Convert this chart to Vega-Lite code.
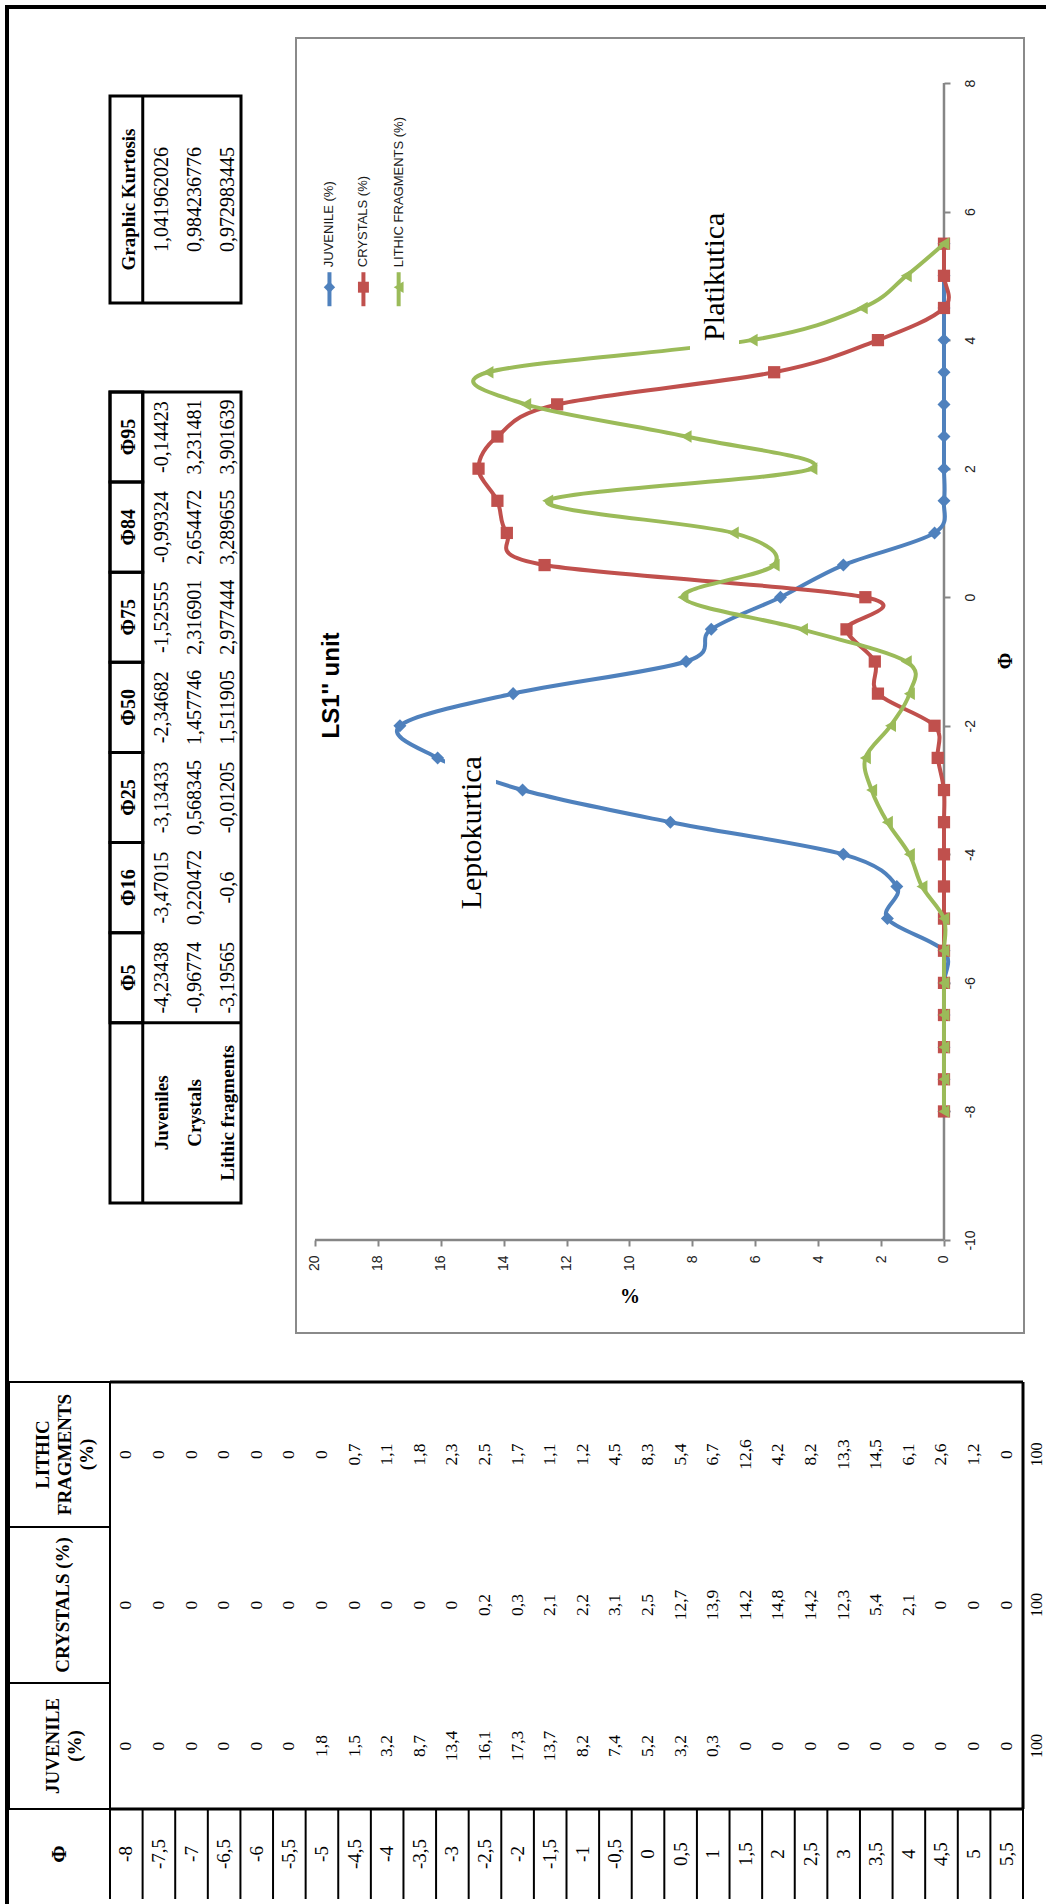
{
  "$schema": "https://vega.github.io/schema/vega-lite/v6.json",
  "background": "white",
  "padding": {"left": 5, "top": 5, "right": 0, "bottom": 0},
  "config": {
    "view": {"stroke": null},
    "locale": {"number": {"decimal": ",", "thousands": ".", "grouping": [3], "currency": ["", ""], "minus": "-"}},
    "text": {"font": "Liberation Serif", "color": "black"}
  },
  "datasets": {
    "dist": [
      {"phi": -8, "juv": 0, "cry": 0, "lit": 0},
      {"phi": -7.5, "juv": 0, "cry": 0, "lit": 0},
      {"phi": -7, "juv": 0, "cry": 0, "lit": 0},
      {"phi": -6.5, "juv": 0, "cry": 0, "lit": 0},
      {"phi": -6, "juv": 0, "cry": 0, "lit": 0},
      {"phi": -5.5, "juv": 0, "cry": 0, "lit": 0},
      {"phi": -5, "juv": 1.8, "cry": 0, "lit": 0},
      {"phi": -4.5, "juv": 1.5, "cry": 0, "lit": 0.7},
      {"phi": -4, "juv": 3.2, "cry": 0, "lit": 1.1},
      {"phi": -3.5, "juv": 8.7, "cry": 0, "lit": 1.8},
      {"phi": -3, "juv": 13.4, "cry": 0, "lit": 2.3},
      {"phi": -2.5, "juv": 16.1, "cry": 0.2, "lit": 2.5},
      {"phi": -2, "juv": 17.3, "cry": 0.3, "lit": 1.7},
      {"phi": -1.5, "juv": 13.7, "cry": 2.1, "lit": 1.1},
      {"phi": -1, "juv": 8.2, "cry": 2.2, "lit": 1.2},
      {"phi": -0.5, "juv": 7.4, "cry": 3.1, "lit": 4.5},
      {"phi": 0, "juv": 5.2, "cry": 2.5, "lit": 8.3},
      {"phi": 0.5, "juv": 3.2, "cry": 12.7, "lit": 5.4},
      {"phi": 1, "juv": 0.3, "cry": 13.9, "lit": 6.7},
      {"phi": 1.5, "juv": 0, "cry": 14.2, "lit": 12.6},
      {"phi": 2, "juv": 0, "cry": 14.8, "lit": 4.2},
      {"phi": 2.5, "juv": 0, "cry": 14.2, "lit": 8.2},
      {"phi": 3, "juv": 0, "cry": 12.3, "lit": 13.3},
      {"phi": 3.5, "juv": 0, "cry": 5.4, "lit": 14.5},
      {"phi": 4, "juv": 0, "cry": 2.1, "lit": 6.1},
      {"phi": 4.5, "juv": 0, "cry": 0, "lit": 2.6},
      {"phi": 5, "juv": 0, "cry": 0, "lit": 1.2},
      {"phi": 5.5, "juv": 0, "cry": 0, "lit": 0}
    ],
    "stats": [
      {"row": "Juveniles", "col": "Φ5", "val": -4.23438},
      {"row": "Juveniles", "col": "Φ16", "val": -3.47015},
      {"row": "Juveniles", "col": "Φ25", "val": -3.13433},
      {"row": "Juveniles", "col": "Φ50", "val": -2.34682},
      {"row": "Juveniles", "col": "Φ75", "val": -1.52555},
      {"row": "Juveniles", "col": "Φ84", "val": -0.99324},
      {"row": "Juveniles", "col": "Φ95", "val": -0.14423},
      {"row": "Crystals", "col": "Φ5", "val": -0.96774},
      {"row": "Crystals", "col": "Φ16", "val": 0.220472},
      {"row": "Crystals", "col": "Φ25", "val": 0.568345},
      {"row": "Crystals", "col": "Φ50", "val": 1.457746},
      {"row": "Crystals", "col": "Φ75", "val": 2.316901},
      {"row": "Crystals", "col": "Φ84", "val": 2.654472},
      {"row": "Crystals", "col": "Φ95", "val": 3.231481},
      {"row": "Lithic fragments", "col": "Φ5", "val": -3.19565},
      {"row": "Lithic fragments", "col": "Φ16", "val": -0.6},
      {"row": "Lithic fragments", "col": "Φ25", "val": -0.01205},
      {"row": "Lithic fragments", "col": "Φ50", "val": 1.511905},
      {"row": "Lithic fragments", "col": "Φ75", "val": 2.977444},
      {"row": "Lithic fragments", "col": "Φ84", "val": 3.289655},
      {"row": "Lithic fragments", "col": "Φ95", "val": 3.901639}
    ],
    "kurt": [
      {"row": "Juveniles", "k": 1.041962026},
      {"row": "Crystals", "k": 0.984236776},
      {"row": "Lithic fragments", "k": 0.972983445}
    ],
    "tcols": [
      {"col": "lit", "name": "LITHIC\nFRAGMENTS\n(%)"},
      {"col": "cry", "name": "CRYSTALS (%)"},
      {"col": "juv", "name": "JUVENILE\n(%)"},
      {"col": "phi", "name": "Φ"}
    ],
    "totals": [
      {"col": "juv", "t": 100},
      {"col": "cry", "t": 100},
      {"col": "lit", "t": 100}
    ]
  },
  "bounds": "full",
  "spacing": -2,
  "hconcat": [
    {"width": 4, "height": 1899, "data": {"values": []}, "mark": "point", "view": {"fill": "black", "stroke": null}},
    {
      "bounds": "full",
      "spacing": 0,
      "vconcat": [
        {"width": 1037, "height": 4, "data": {"values": []}, "mark": "point", "view": {"fill": "black", "stroke": null}},
        {"width": 10, "height": 28, "data": {"values": []}, "mark": "point"},
        {
          "bounds": "full",
          "spacing": 51,
          "hconcat": [
            {"width": 47, "height": 1, "data": {"values": []}, "mark": "point"},
            {
              "bounds": "flush",
              "spacing": 0,
              "vconcat": [
                {"width": 131, "height": 58, "data": {"values": []}, "mark": "point"},
                {
                  "width": 131, "height": 207,
                  "view": {"stroke": "black", "strokeWidth": 3},
                  "layer": [
                    {"data": {"values": [{}]}, "mark": {"type": "rule", "color": "black", "strokeWidth": 3},
                     "encoding": {"x": {"datum": "Juveniles", "bandPosition": 0, "scale": {"type": "band", "domain": ["hdr", "Juveniles", "Crystals", "Lithic fragments"], "paddingInner": 0, "paddingOuter": 0}, "axis": null}}},
                    {"data": {"values": [{"h": "Graphic Kurtosis"}]}, "mark": {"type": "text", "angle": -90, "fontWeight": "bold", "fontSize": 19, "dy": 3},
                     "encoding": {"x": {"datum": "hdr", "bandPosition": 0.5, "scale": {"type": "band", "domain": ["hdr", "Juveniles", "Crystals", "Lithic fragments"], "paddingInner": 0, "paddingOuter": 0}, "axis": null}, "text": {"field": "h"}}},
                    {"data": {"name": "kurt"}, "mark": {"type": "text", "angle": -90, "fontSize": 20, "dy": 3},
                     "encoding": {"x": {"field": "row", "type": "nominal", "scale": {"type": "band", "domain": ["hdr", "Juveniles", "Crystals", "Lithic fragments"], "paddingInner": 0, "paddingOuter": 0}, "axis": null}, "text": {"field": "k", "type": "quantitative", "format": ".10~r"}}}
                  ]
                },
                {"width": 131, "height": 89, "data": {"values": []}, "mark": "point"},
                {
                  "width": 131, "height": 811,
                  "view": {"stroke": "black", "strokeWidth": 3},
                  "layer": [
                    {"data": {"name": "stats"}, "transform": [{"filter": "datum.row === 'Juveniles'"}],
                     "mark": {"type": "rect", "filled": false, "color": "black", "strokeWidth": 3},
                     "encoding": {
                       "x": {"datum": "hdr", "scale": {"type": "band", "domain": ["hdr", "Juveniles", "Crystals", "Lithic fragments"], "paddingInner": 0, "paddingOuter": 0}, "axis": null},
                       "y": {"field": "col", "type": "nominal", "scale": {"type": "band", "domain": ["Φ95", "Φ84", "Φ75", "Φ50", "Φ25", "Φ16", "Φ5", "lab1", "lab2"], "paddingInner": 0, "paddingOuter": 0}, "axis": null}}},
                    {"data": {"values": [{}]}, "mark": {"type": "rule", "color": "black", "strokeWidth": 3},
                     "encoding": {"y": {"datum": "lab1", "bandPosition": 0, "scale": {"type": "band", "domain": ["Φ95", "Φ84", "Φ75", "Φ50", "Φ25", "Φ16", "Φ5", "lab1", "lab2"], "paddingInner": 0, "paddingOuter": 0}, "axis": null}}},
                    {"data": {"values": [{}]}, "mark": {"type": "rule", "color": "black", "strokeWidth": 3},
                     "encoding": {"x": {"datum": "Juveniles", "bandPosition": 0, "scale": {"type": "band", "domain": ["hdr", "Juveniles", "Crystals", "Lithic fragments"], "paddingInner": 0, "paddingOuter": 0}, "axis": null}}},
                    {"data": {"name": "stats"}, "transform": [{"filter": "datum.row === 'Juveniles'"}],
                     "mark": {"type": "text", "angle": -90, "fontWeight": "bold", "fontSize": 20, "dy": 3},
                     "encoding": {
                       "x": {"datum": "hdr", "bandPosition": 0.5, "scale": {"type": "band", "domain": ["hdr", "Juveniles", "Crystals", "Lithic fragments"], "paddingInner": 0, "paddingOuter": 0}, "axis": null},
                       "y": {"field": "col", "type": "nominal", "scale": {"type": "band", "domain": ["Φ95", "Φ84", "Φ75", "Φ50", "Φ25", "Φ16", "Φ5", "lab1", "lab2"], "paddingInner": 0, "paddingOuter": 0}, "axis": null},
                       "text": {"field": "col"}}},
                    {"data": {"name": "stats"},
                     "mark": {"type": "text", "angle": -90, "fontSize": 20, "dy": 3},
                     "encoding": {
                       "x": {"field": "row", "type": "nominal", "scale": {"type": "band", "domain": ["hdr", "Juveniles", "Crystals", "Lithic fragments"], "paddingInner": 0, "paddingOuter": 0}, "axis": null},
                       "y": {"field": "col", "type": "nominal", "scale": {"type": "band", "domain": ["Φ95", "Φ84", "Φ75", "Φ50", "Φ25", "Φ16", "Φ5", "lab1", "lab2"], "paddingInner": 0, "paddingOuter": 0}, "axis": null},
                       "text": {"field": "val", "type": "quantitative", "format": ".7~r"}}},
                    {"data": {"name": "stats"}, "transform": [{"filter": "datum.col === 'Φ5'"}],
                     "mark": {"type": "text", "angle": -90, "fontWeight": "bold", "fontSize": 19, "dy": 3},
                     "encoding": {
                       "x": {"field": "row", "type": "nominal", "scale": {"type": "band", "domain": ["hdr", "Juveniles", "Crystals", "Lithic fragments"], "paddingInner": 0, "paddingOuter": 0}, "axis": null},
                       "y": {"datum": "lab2", "bandPosition": 0, "scale": {"type": "band", "domain": ["Φ95", "Φ84", "Φ75", "Φ50", "Φ25", "Φ16", "Φ5", "lab1", "lab2"], "paddingInner": 0, "paddingOuter": 0}, "axis": null},
                       "text": {"field": "row"}}}
                  ]
                }
              ]
            },
            {
              "width": 728, "height": 1295,
              "view": {"stroke": "#8a8a8a", "strokeWidth": 2},
              "layer": [
                {"data": {"values": [{}]}, "mark": {"type": "rule", "color": "#868686", "strokeWidth": 2.5},
                 "encoding": {"x": {"datum": 0, "scale": {"domain": [-2.544, 20.604], "reverse": true, "nice": false, "zero": false}}, "x2": {"datum": 20}, "y": {"datum": -10, "scale": {"domain": [-11.447, 8.7], "nice": false, "zero": false}}}},
                {"data": {"values": [{}]}, "mark": {"type": "rule", "color": "#868686", "strokeWidth": 2.5},
                 "encoding": {"x": {"datum": 0, "scale": {"domain": [-2.544, 20.604], "reverse": true, "nice": false, "zero": false}}, "y": {"datum": -10, "scale": {"domain": [-11.447, 8.7], "nice": false, "zero": false}}, "y2": {"datum": 8}}},
                {"data": {"name": "dist"}, "transform": [{"fold": ["juv"], "as": ["series", "v"]}],
                 "encoding": {
                   "x": {"field": "v", "type": "quantitative", "scale": {"domain": [-2.544, 20.604], "reverse": true, "nice": false, "zero": false},
                         "axis": {"orient": "bottom", "offset": -93, "values": [0, 2, 4, 6, 8, 10, 12, 14, 16, 18, 20], "format": "~g", "domain": false, "grid": false, "ticks": true, "tickSize": 6, "tickWidth": 2, "tickColor": "#868686", "labelAngle": -90, "labelAlign": "right", "labelBaseline": "middle", "labelPadding": 9, "labelFont": "Liberation Sans", "labelFontSize": 14, "labelColor": "#222222", "labelOverlap": false, "labelFlush": false, "labelBound": false, "title": "%", "titleFont": "Liberation Serif", "titleFontSize": 20, "titleFontWeight": "bold", "titleColor": "black", "titleAngle": 0, "titleX": 333.5, "titleY": 56.5, "titleAlign": "center", "titleBaseline": "middle"}},
                   "y": {"field": "phi", "type": "quantitative", "scale": {"domain": [-11.447, 8.7], "nice": false, "zero": false},
                         "axis": {"orient": "right", "offset": -80, "values": [-10, -8, -6, -4, -2, 0, 2, 4, 6, 8], "format": "~g", "domain": false, "grid": false, "ticks": true, "tickSize": 6, "tickWidth": 2, "tickColor": "#868686", "labelAngle": -90, "labelAlign": "center", "labelBaseline": "top", "labelPadding": 13, "labelFont": "Liberation Sans", "labelFontSize": 14, "labelColor": "#222222", "labelOverlap": false, "labelFlush": false, "labelBound": false, "title": "Φ", "titleFont": "Liberation Serif", "titleFontSize": 20, "titleFontWeight": "bold", "titleColor": "black", "titleAngle": -90, "titleX": 61.5, "titleY": 622.5, "titleAlign": "center", "titleBaseline": "middle"}}
                 },
                 "layer": [
                   {"mark": {"type": "line", "interpolate": "cardinal", "color": "#4F81BD", "strokeWidth": 4}, "encoding": {"order": {"field": "phi", "type": "quantitative"}}},
                   {"mark": {"type": "point", "shape": "diamond", "filled": true, "size": 170, "color": "#4F81BD", "opacity": 1}}
                 ]},
                {"data": {"name": "dist"}, "transform": [{"fold": ["cry"], "as": ["series", "v"]}],
                 "encoding": {
                   "x": {"field": "v", "type": "quantitative", "scale": {"domain": [-2.544, 20.604], "reverse": true, "nice": false, "zero": false}},
                   "y": {"field": "phi", "type": "quantitative", "scale": {"domain": [-11.447, 8.7], "nice": false, "zero": false}}
                 },
                 "layer": [
                   {"mark": {"type": "line", "interpolate": "cardinal", "color": "#C0504D", "strokeWidth": 4}, "encoding": {"order": {"field": "phi", "type": "quantitative"}}},
                   {"mark": {"type": "point", "shape": "square", "filled": true, "size": 150, "color": "#C0504D", "opacity": 1}}
                 ]},
                {"data": {"name": "dist"}, "transform": [{"fold": ["lit"], "as": ["series", "v"]}],
                 "encoding": {
                   "x": {"field": "v", "type": "quantitative", "scale": {"domain": [-2.544, 20.604], "reverse": true, "nice": false, "zero": false}},
                   "y": {"field": "phi", "type": "quantitative", "scale": {"domain": [-11.447, 8.7], "nice": false, "zero": false}}
                 },
                 "layer": [
                   {"mark": {"type": "line", "interpolate": "cardinal", "color": "#9BBB59", "strokeWidth": 4}, "encoding": {"order": {"field": "phi", "type": "quantitative"}}},
                   {"mark": {"type": "point", "shape": "triangle-left", "filled": true, "size": 160, "color": "#9BBB59", "opacity": 1}}
                 ]},
                {"data": {"values": [{}]}, "mark": {"type": "rect", "color": "white"},
                 "encoding": {"x": {"datum": 15.866}, "x2": {"datum": 14.245}, "y": {"datum": -2.287}, "y2": {"datum": -5.087}}},
                {"data": {"values": [{}]}, "mark": {"type": "rect", "color": "white"},
                 "encoding": {"x": {"datum": 8.076}, "x2": {"datum": 6.518}, "y": {"datum": 6.19}, "y2": {"datum": 3.765}}},
                {"data": {"values": [{"label": "Leptokurtica"}]}, "mark": {"type": "text", "angle": -90, "align": "center", "baseline": "alphabetic", "font": "Liberation Serif", "fontSize": 30},
                 "encoding": {"x": {"datum": 14.737}, "y": {"datum": -3.664}, "text": {"field": "label"}}},
                {"data": {"values": [{"label": "Platikutica"}]}, "mark": {"type": "text", "angle": -90, "align": "center", "baseline": "alphabetic", "font": "Liberation Serif", "fontSize": 30},
                 "encoding": {"x": {"datum": 6.995}, "y": {"datum": 4.986}, "text": {"field": "label"}}},
                {"data": {"values": [{"label": "LS1'' unit"}]}, "mark": {"type": "text", "angle": -90, "align": "center", "baseline": "alphabetic", "font": "Liberation Sans", "fontWeight": "bold", "fontSize": 24},
                 "encoding": {"x": {"datum": 19.237}, "y": {"datum": -1.3735}, "text": {"field": "label"}}},
                {"data": {"values": [{}]}, "mark": {"type": "rule", "color": "#4F81BD", "strokeWidth": 4},
                 "encoding": {"x": {"datum": 19.54}, "y": {"datum": 5.056}, "y2": {"datum": 4.527}}},
                {"data": {"values": [{}]}, "mark": {"type": "point", "shape": "diamond", "filled": true, "size": 130, "color": "#4F81BD", "opacity": 1},
                 "encoding": {"x": {"datum": 19.54}, "y": {"datum": 4.823}}},
                {"data": {"values": [{"s": "JUVENILE (%)"}]}, "mark": {"type": "text", "angle": -90, "align": "left", "baseline": "middle", "font": "Liberation Sans", "fontSize": 13, "color": "#1a1a1a"},
                 "encoding": {"x": {"datum": 19.54}, "y": {"datum": 5.134}, "text": {"field": "s"}}},
                {"data": {"values": [{}]}, "mark": {"type": "rule", "color": "#C0504D", "strokeWidth": 4},
                 "encoding": {"x": {"datum": 18.46}, "y": {"datum": 5.056}, "y2": {"datum": 4.527}}},
                {"data": {"values": [{}]}, "mark": {"type": "point", "shape": "square", "filled": true, "size": 120, "color": "#C0504D", "opacity": 1},
                 "encoding": {"x": {"datum": 18.46}, "y": {"datum": 4.823}}},
                {"data": {"values": [{"s": "CRYSTALS (%)"}]}, "mark": {"type": "text", "angle": -90, "align": "left", "baseline": "middle", "font": "Liberation Sans", "fontSize": 13, "color": "#1a1a1a"},
                 "encoding": {"x": {"datum": 18.46}, "y": {"datum": 5.134}, "text": {"field": "s"}}},
                {"data": {"values": [{}]}, "mark": {"type": "rule", "color": "#9BBB59", "strokeWidth": 4},
                 "encoding": {"x": {"datum": 17.34}, "y": {"datum": 5.056}, "y2": {"datum": 4.527}}},
                {"data": {"values": [{}]}, "mark": {"type": "point", "shape": "triangle-left", "filled": true, "size": 130, "color": "#9BBB59", "opacity": 1},
                 "encoding": {"x": {"datum": 17.34}, "y": {"datum": 4.823}}},
                {"data": {"values": [{"s": "LITHIC FRAGMENTS (%)"}]}, "mark": {"type": "text", "angle": -90, "align": "left", "baseline": "middle", "font": "Liberation Sans", "fontSize": 13, "color": "#1a1a1a"},
                 "encoding": {"x": {"datum": 17.34}, "y": {"datum": 5.134}, "text": {"field": "s"}}}
              ]
            }
          ]
        },
        {"width": 10, "height": 46, "data": {"values": []}, "mark": "point"},
        {
          "bounds": "flush",
          "spacing": 0,
          "align": "each",
          "columns": 3,
          "concat": [
            {"width": 101, "height": 145, "view": {"stroke": "black", "strokeWidth": 2}, "data": {"name": "tcols"}, "transform": [{"filter": "datum.col === 'lit'"}],
             "mark": {"type": "text", "angle": -90, "fontWeight": "bold", "fontSize": 19, "lineHeight": 22, "lineBreak": "\n", "dy": -16.5}, "encoding": {"text": {"field": "name"}}},
            {"width": 913, "height": 145,
             "layer": [
               {"data": {"name": "dist"}, "mark": {"type": "text", "angle": -90, "fontSize": 17.5},
                "encoding": {"x": {"field": "phi", "type": "ordinal", "scale": {"type": "band", "domain": [-8, -7.5, -7, -6.5, -6, -5.5, -5, -4.5, -4, -3.5, -3, -2.5, -2, -1.5, -1, -0.5, 0, 0.5, 1, 1.5, 2, 2.5, 3, 3.5, 4, 4.5, 5, 5.5], "paddingInner": 0, "paddingOuter": 0}, "axis": null},
                             "text": {"field": "lit", "type": "quantitative", "format": "~g"}}},
               {"data": {"values": [{}]}, "mark": {"type": "rule", "color": "black", "strokeWidth": 3},
                "encoding": {"y": {"datum": "lit", "bandPosition": 0, "scale": {"type": "band", "domain": ["lit"], "paddingInner": 0, "paddingOuter": 0}, "axis": null}}},
               {"data": {"values": [{}]}, "mark": {"type": "rule", "color": "black", "strokeWidth": 3},
                "encoding": {"x": {"datum": 5.5, "type": "ordinal", "bandPosition": 1, "scale": {"type": "band", "domain": [-8, -7.5, -7, -6.5, -6, -5.5, -5, -4.5, -4, -3.5, -3, -2.5, -2, -1.5, -1, -0.5, 0, 0.5, 1, 1.5, 2, 2.5, 3, 3.5, 4, 4.5, 5, 5.5], "paddingInner": 0, "paddingOuter": 0}, "axis": null}}}
             ]},
            {"width": 23, "height": 145, "data": {"name": "totals"}, "transform": [{"filter": "datum.col === 'lit'"}],
             "mark": {"type": "text", "angle": -90, "fontSize": 16, "dy": 2.5}, "encoding": {"text": {"field": "t", "type": "quantitative"}}},

            {"width": 101, "height": 156, "view": {"stroke": "black", "strokeWidth": 2}, "data": {"name": "tcols"}, "transform": [{"filter": "datum.col === 'cry'"}],
             "mark": {"type": "text", "angle": -90, "fontWeight": "bold", "fontSize": 19, "lineHeight": 22, "lineBreak": "\n", "dy": 3}, "encoding": {"text": {"field": "name"}}},
            {"width": 913, "height": 156,
             "layer": [
               {"data": {"name": "dist"}, "mark": {"type": "text", "angle": -90, "fontSize": 17.5},
                "encoding": {"x": {"field": "phi", "type": "ordinal", "scale": {"type": "band", "domain": [-8, -7.5, -7, -6.5, -6, -5.5, -5, -4.5, -4, -3.5, -3, -2.5, -2, -1.5, -1, -0.5, 0, 0.5, 1, 1.5, 2, 2.5, 3, 3.5, 4, 4.5, 5, 5.5], "paddingInner": 0, "paddingOuter": 0}, "axis": null},
                             "text": {"field": "cry", "type": "quantitative", "format": "~g"}}},
               {"data": {"values": [{}]}, "mark": {"type": "rule", "color": "black", "strokeWidth": 3},
                "encoding": {"x": {"datum": 5.5, "type": "ordinal", "bandPosition": 1, "scale": {"type": "band", "domain": [-8, -7.5, -7, -6.5, -6, -5.5, -5, -4.5, -4, -3.5, -3, -2.5, -2, -1.5, -1, -0.5, 0, 0.5, 1, 1.5, 2, 2.5, 3, 3.5, 4, 4.5, 5, 5.5], "paddingInner": 0, "paddingOuter": 0}, "axis": null}}}
             ]},
            {"width": 23, "height": 156, "data": {"name": "totals"}, "transform": [{"filter": "datum.col === 'cry'"}],
             "mark": {"type": "text", "angle": -90, "fontSize": 16, "dy": 2.5}, "encoding": {"text": {"field": "t", "type": "quantitative"}}},

            {"width": 101, "height": 126, "view": {"stroke": "black", "strokeWidth": 2}, "data": {"name": "tcols"}, "transform": [{"filter": "datum.col === 'juv'"}],
             "mark": {"type": "text", "angle": -90, "fontWeight": "bold", "fontSize": 19, "lineHeight": 22, "lineBreak": "\n", "dy": -7}, "encoding": {"text": {"field": "name"}}},
            {"width": 913, "height": 126,
             "layer": [
               {"data": {"name": "dist"}, "mark": {"type": "text", "angle": -90, "fontSize": 17.5},
                "encoding": {"x": {"field": "phi", "type": "ordinal", "scale": {"type": "band", "domain": [-8, -7.5, -7, -6.5, -6, -5.5, -5, -4.5, -4, -3.5, -3, -2.5, -2, -1.5, -1, -0.5, 0, 0.5, 1, 1.5, 2, 2.5, 3, 3.5, 4, 4.5, 5, 5.5], "paddingInner": 0, "paddingOuter": 0}, "axis": null},
                             "text": {"field": "juv", "type": "quantitative", "format": "~g"}}},
               {"data": {"values": [{}]}, "mark": {"type": "rule", "color": "black", "strokeWidth": 3},
                "encoding": {"y": {"datum": "juv", "bandPosition": 1, "scale": {"type": "band", "domain": ["juv"], "paddingInner": 0, "paddingOuter": 0}, "axis": null}}},
               {"data": {"values": [{}]}, "mark": {"type": "rule", "color": "black", "strokeWidth": 3},
                "encoding": {"x": {"datum": 5.5, "type": "ordinal", "bandPosition": 1, "scale": {"type": "band", "domain": [-8, -7.5, -7, -6.5, -6, -5.5, -5, -4.5, -4, -3.5, -3, -2.5, -2, -1.5, -1, -0.5, 0, 0.5, 1, 1.5, 2, 2.5, 3, 3.5, 4, 4.5, 5, 5.5], "paddingInner": 0, "paddingOuter": 0}, "axis": null}}}
             ]},
            {"width": 23, "height": 126, "data": {"name": "totals"}, "transform": [{"filter": "datum.col === 'juv'"}],
             "mark": {"type": "text", "angle": -90, "fontSize": 16, "dy": 2.5}, "encoding": {"text": {"field": "t", "type": "quantitative"}}},

            {"width": 101, "height": 90, "data": {"name": "tcols"}, "transform": [{"filter": "datum.col === 'phi'"}],
             "mark": {"type": "text", "angle": -90, "fontWeight": "bold", "fontSize": 21}, "encoding": {"text": {"field": "name"}}},
            {"width": 913, "height": 90,
             "layer": [
               {"data": {"name": "dist"}, "mark": {"type": "rule", "color": "black", "strokeWidth": 2},
                "encoding": {"x": {"field": "phi", "type": "ordinal", "bandPosition": 0, "scale": {"type": "band", "domain": [-8, -7.5, -7, -6.5, -6, -5.5, -5, -4.5, -4, -3.5, -3, -2.5, -2, -1.5, -1, -0.5, 0, 0.5, 1, 1.5, 2, 2.5, 3, 3.5, 4, 4.5, 5, 5.5], "paddingInner": 0, "paddingOuter": 0}, "axis": null}}},
               {"data": {"values": [{}]}, "mark": {"type": "rule", "color": "black", "strokeWidth": 2},
                "encoding": {"x": {"datum": 5.5, "type": "ordinal", "bandPosition": 1, "scale": {"type": "band", "domain": [-8, -7.5, -7, -6.5, -6, -5.5, -5, -4.5, -4, -3.5, -3, -2.5, -2, -1.5, -1, -0.5, 0, 0.5, 1, 1.5, 2, 2.5, 3, 3.5, 4, 4.5, 5, 5.5], "paddingInner": 0, "paddingOuter": 0}, "axis": null}}},
               {"data": {"name": "dist"}, "mark": {"type": "text", "angle": -90, "fontSize": 19},
                "encoding": {"x": {"field": "phi", "type": "ordinal", "scale": {"type": "band", "domain": [-8, -7.5, -7, -6.5, -6, -5.5, -5, -4.5, -4, -3.5, -3, -2.5, -2, -1.5, -1, -0.5, 0, 0.5, 1, 1.5, 2, 2.5, 3, 3.5, 4, 4.5, 5, 5.5], "paddingInner": 0, "paddingOuter": 0}, "axis": null},
                             "text": {"field": "phi", "type": "quantitative", "format": "~g"}}}
             ]},
            {"width": 23, "height": 90, "data": {"values": []}, "mark": "point"}
          ]
        }
      ]
    }
  ]
}
